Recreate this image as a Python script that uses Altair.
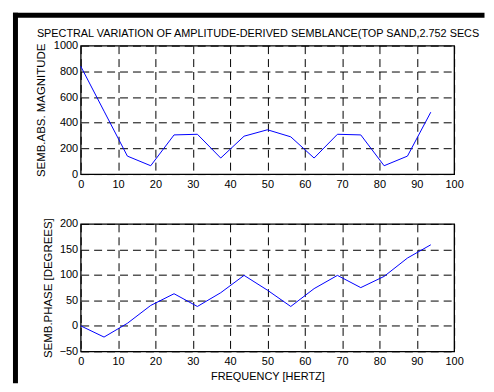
import altair as alt
import pandas as pd

# ---- data ----
freq = [0, 6.25, 12.5, 18.75, 25, 31.25, 37.5, 43.75, 50, 56.25, 62.5, 68.75, 75, 81.25, 87.5, 93.75]
magnitude = [840, 490, 140, 65, 305, 310, 125, 295, 345, 290, 125, 310, 305, 65, 140, 482]
phase = [0, -22, 5, 40, 63, 38, 65, 99, 70, 38, 73, 99, 75, 97, 133, 159]

title_text = "SPECTRAL VARIATION OF AMPLITUDE-DERIVED SEMBLANCE(TOP SAND,2.752 SECS"
mag_title = "SEMB.ABS. MAGNITUDE"
phase_title = "SEMB.PHASE [DEGREES]"
x_title = "FREQUENCY [HERTZ]"
x_ticks = [0, 10, 20, 30, 40, 50, 60, 70, 80, 90, 100]
mag_ticks = [0, 200, 400, 600, 800, 1000]
phase_ticks = [-50, 0, 50, 100, 150, 200]

df = pd.DataFrame({"freq": freq, "mag": magnitude, "phase": phase})

FONT = "Liberation Sans"
common = dict(
    grid=True, gridColor="black", gridDash=[8, 5], gridWidth=1, gridOpacity=1,
    domain=False, ticks=False, format="d",
    labelFont=FONT, labelFontSize=11, labelColor="black",
    titleFont=FONT, titleFontWeight="normal", titleColor="black",
)

xscale = alt.Scale(domain=[0, 100], nice=False, zero=False)

top_line = alt.Chart(df).mark_line(color="#0000ff", strokeWidth=1).encode(
    x=alt.X("freq:Q", scale=xscale,
            axis=alt.Axis(values=x_ticks, title=None, labelPadding=4, labelFlush=False, **common)),
    y=alt.Y("mag:Q", scale=alt.Scale(domain=[0, 1000], nice=False),
            axis=alt.Axis(values=mag_ticks, title=mag_title, labelPadding=3, titlePadding=7,
                          titleFontSize=11.5, **common)),
)

one = alt.Data(values=[{"t": title_text}])
title_mark = alt.Chart(one).mark_text(
    align="left", baseline="alphabetic", font=FONT, fontSize=10.9, color="black"
).encode(x=alt.value(-44), y=alt.value(-9), text="t:N")

top = alt.layer(top_line, title_mark).properties(width=375, height=129)

bottom_line = alt.Chart(df).mark_line(color="#0000ff", strokeWidth=1).encode(
    x=alt.X("freq:Q", scale=xscale,
            axis=alt.Axis(values=x_ticks, title=x_title, labelPadding=4, titlePadding=4,
                          titleFontSize=11, labelFlush=False, **common)),
    y=alt.Y("phase:Q", scale=alt.Scale(domain=[-50, 200], nice=False, zero=False),
            axis=alt.Axis(values=phase_ticks, title=phase_title, labelPadding=3, titlePadding=5.5,
                          titleFontSize=11.5, **common)),
)

# thick black picture border (left and top edges)
border_v = alt.Chart(one).mark_rect(color="black").encode(
    x=alt.value(-68), x2=alt.value(-63), y=alt.value(-212), y2=alt.value(160))
border_h = alt.Chart(one).mark_rect(color="black").encode(
    x=alt.value(-68), x2=alt.value(405.5), y=alt.value(-212), y2=alt.value(-207))

bottom = alt.layer(bottom_line, border_v, border_h).properties(width=375, height=128)

chart = alt.vconcat(top, bottom, spacing=50, bounds="flush").properties(
    padding={"left": 4, "top": 3, "right": 0, "bottom": 0},
    background="white",
).configure_view(stroke="black", strokeWidth=1.3)

chart.save("out.html", embed_options={"renderer": "svg", "actions": False})
